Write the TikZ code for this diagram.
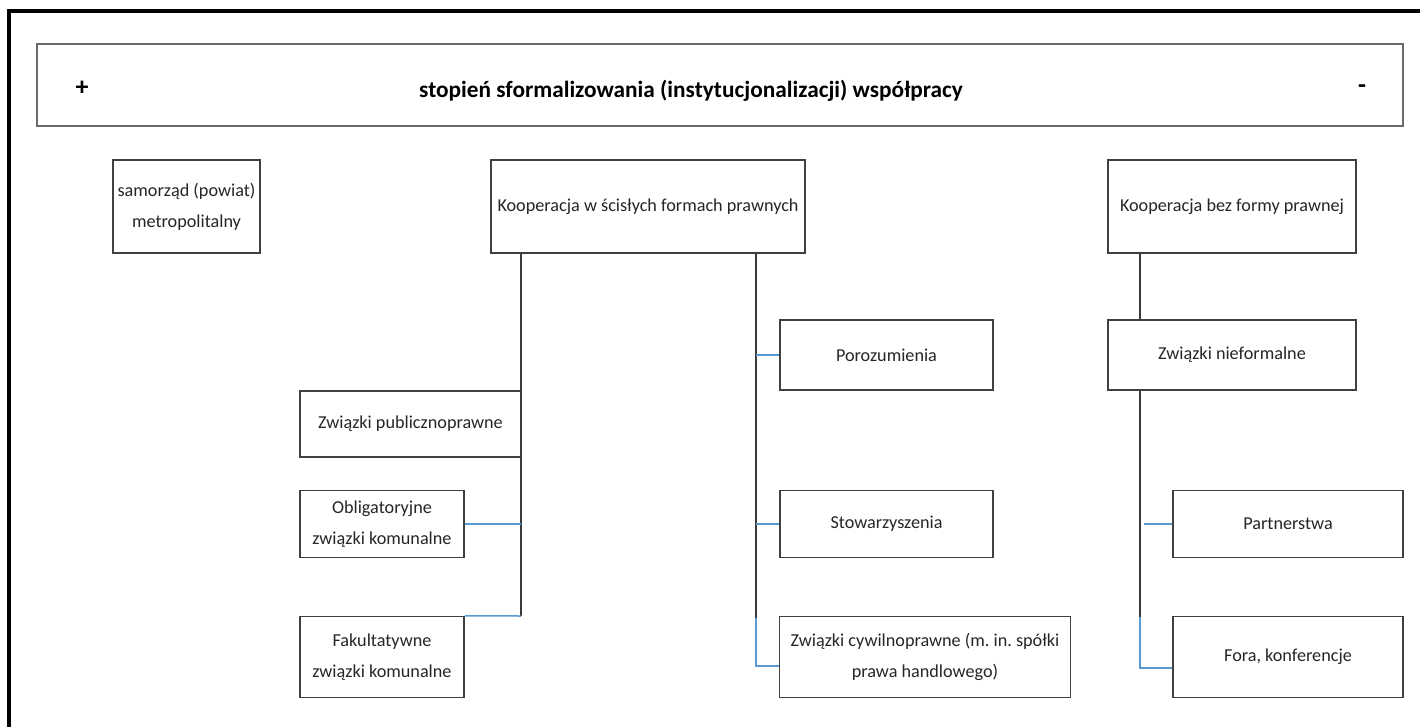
\documentclass[tikz,border=0pt]{standalone}
\usepackage{fontspec}
\setmainfont{Carlito}
\frenchspacing
\definecolor{boxline}{HTML}{404040}
\definecolor{hdrline}{HTML}{6A6A6A}
\definecolor{conn}{HTML}{3A3A3A}
\definecolor{bluec}{HTML}{5B9BD5}
\definecolor{txt}{HTML}{262626}
\tikzset{
  box/.style={draw=boxline, line width=1.5pt, fill=white, inner sep=0pt, align=center,
    text=txt, font=\fontsize{18.2}{31}\selectfont},
  gline/.style={draw=conn, line width=1.5pt},
  bline/.style={draw=bluec, line width=1.5pt},
}
\begin{document}
\begin{tikzpicture}[x=1pt,y=-1pt]
\useasboundingbox (0,0) rectangle (1420,726);
\fill[white] (0,0) rectangle (1420,726);
% outer frame (partially visible)
\draw[line width=4pt, black] (9,730) -- (9,10.5) -- (1425,10.5);
% header
\node[draw=hdrline, line width=2pt, minimum width=1366pt, minimum height=82pt, inner sep=0pt] (hdr) at (720,85) {};
\node[font=\bfseries\fontsize{23.3}{26}\selectfont, text=black] (title) at (691,91) {stopień sformalizowania (instytucjonalizacji) współpracy};
\node[font=\bfseries\fontsize{26}{26}\selectfont, text=black] (plus) at (82,88) {+};
\node[font=\bfseries\fontsize{26}{26}\selectfont, text=black] (minus) at (1362,89) {-};

\coordinate (lv) at (521,616);
\coordinate (mv) at (756,618);
\coordinate (mb) at (756,666);
\coordinate (rv) at (1140,617);
\coordinate (rb) at (1140,668);
\coordinate (rp) at (1144,524);

% boxes
\node[box, minimum width=147pt, minimum height=93pt] (samo) at (186.5,206.5) {samorząd (powiat)\\metropolitalny};
\node[box, minimum width=314pt, minimum height=93pt] (kscis) at (648,206.5) {Kooperacja w ścisłych formach prawnych};
\node[box, minimum width=248pt, minimum height=93pt] (kbez) at (1232,206.5) {Kooperacja bez formy prawnej};
\node[box, minimum width=221pt, minimum height=66pt] (zpub) at (410.5,424) {Związki publicznoprawne};
\node[box, minimum width=164pt, minimum height=67pt] (obl) at (382,524) {Obligatoryjne\\związki komunalne};
\node[box, minimum width=164pt, minimum height=81pt] (fak) at (382,657) {Fakultatywne\\związki komunalne};
\node[box, minimum width=213pt, minimum height=70pt] (por) at (886.5,355) {Porozumienia};
\node[box, minimum width=213pt, minimum height=67pt] (sto) at (886.5,524) {Stowarzyszenia};
\node[box, minimum width=291pt, minimum height=81pt] (cyw) at (925,657) {Związki cywilnoprawne (m. in. spółki\\prawa handlowego)};
\node[box, minimum width=248pt, minimum height=70pt] (nief) at (1232,355) {Związki nieformalne};
\node[box, minimum width=230pt, minimum height=67pt] (part) at (1288,524) {Partnerstwa};
\node[box, minimum width=230pt, minimum height=81pt] (fora) at (1288,657) {Fora, konferencje};

% left branch
\draw[gline] (kscis.south -| lv) -- (lv);
\draw[bline] (obl.east) -- (obl.east -| lv);
\draw[bline] (fak.north east) -- (lv);
% middle branch
\draw[gline] (kscis.south -| mv) -- (mv);
\draw[bline] (mv) -- (mb) -- (mb -| cyw.west);
\draw[bline] (por.west -| mv) -- (por.west);
\draw[bline] (sto.west -| mv) -- (sto.west);
% right branch
\draw[gline] (kbez.south -| rv) -- (nief.north -| rv);
\draw[gline] (nief.south -| rv) -- (rv);
\draw[bline] (rv) -- (rb) -- (rb -| fora.west);
\draw[bline] (rp) -- (part.west);
\end{tikzpicture}
\end{document}
